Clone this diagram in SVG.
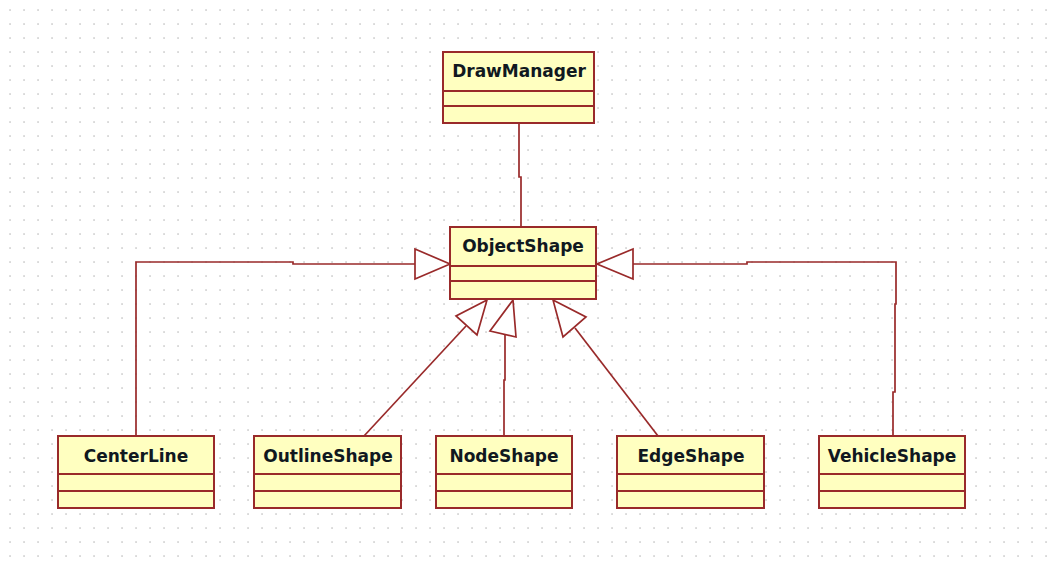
<svg xmlns="http://www.w3.org/2000/svg" width="1050" height="569" viewBox="0 0 1050 569">
  <defs>
    <pattern id="grid" patternUnits="userSpaceOnUse" x="0" y="0" width="14" height="14">
      <rect x="9.3" y="9.3" width="1.5" height="1.5" fill="#c4c4c4"/>
    </pattern>
    <style>
      .cls rect { fill: #ffffc0; stroke: #992a2a; stroke-width: 2; }
      .cls line { stroke: #992a2a; stroke-width: 2; }
      .cls text { font-family: "DejaVu Sans", Verdana, sans-serif; font-weight: bold; font-size: 17px; fill: #101820; text-anchor: middle; }
      .conn polyline, .conn line { fill: none; stroke: #992a2a; stroke-width: 1.7; }
      .conn polygon { fill: #ffffff; stroke: #992a2a; stroke-width: 1.7; stroke-linejoin: miter; }
    </style>
  </defs>

  <rect width="1050" height="569" fill="#ffffff"/>
  <rect width="1050" height="569" fill="url(#grid)"/>

  <!-- connectors -->
  <g id="connectors" class="conn">
    <!-- DrawManager association -->
    <polyline points="519,123 519,177 521,177 521,227"/>
    <!-- CenterLine generalization -->
    <polyline points="136,436 136,262 293,262 293,264 415,264"/>
    <polygon points="415,249 450,264 415,279"/>
    <!-- VehicleShape generalization -->
    <polyline points="893,436 893,392 895,392 895,304 896,304 896,262 747,262 747,264 633,264"/>
    <polygon points="633,249 597,264 633,279"/>
    <!-- OutlineShape generalization -->
    <line x1="364" y1="436" x2="466" y2="326"/>
    <polygon points="487,300 456,316 477,335"/>
    <!-- NodeShape generalization -->
    <polyline points="504,436 504,380 505,380 505,334"/>
    <polygon points="513,300 490,331 516,337"/>
    <!-- EdgeShape generalization -->
    <line x1="658" y1="436" x2="575" y2="328"/>
    <polygon points="553,300 586,317 563,337"/>
  </g>

  <g id="DrawManager" class="cls">
    <rect x="443" y="52" width="151" height="71"/>
    <line x1="443" y1="91" x2="594" y2="91"/>
    <line x1="443" y1="106" x2="594" y2="106"/>
    <text x="519" y="77">DrawManager</text>
  </g>

  <g id="ObjectShape" class="cls">
    <rect x="450" y="227" width="146" height="72"/>
    <line x1="450" y1="266" x2="596" y2="266"/>
    <line x1="450" y1="281" x2="596" y2="281"/>
    <text x="523" y="252">ObjectShape</text>
  </g>

  <g id="CenterLine" class="cls">
    <rect x="58" y="436" width="156" height="72"/>
    <line x1="58" y1="474" x2="214" y2="474"/>
    <line x1="58" y1="491" x2="214" y2="491"/>
    <text x="136" y="462">CenterLine</text>
  </g>

  <g id="OutlineShape" class="cls">
    <rect x="254" y="436" width="147" height="72"/>
    <line x1="254" y1="474" x2="401" y2="474"/>
    <line x1="254" y1="491" x2="401" y2="491"/>
    <text x="328" y="462">OutlineShape</text>
  </g>

  <g id="NodeShape" class="cls">
    <rect x="436" y="436" width="136" height="72"/>
    <line x1="436" y1="474" x2="572" y2="474"/>
    <line x1="436" y1="491" x2="572" y2="491"/>
    <text x="504" y="462">NodeShape</text>
  </g>

  <g id="EdgeShape" class="cls">
    <rect x="617" y="436" width="147" height="72"/>
    <line x1="617" y1="474" x2="764" y2="474"/>
    <line x1="617" y1="491" x2="764" y2="491"/>
    <text x="691" y="462">EdgeShape</text>
  </g>

  <g id="VehicleShape" class="cls">
    <rect x="819" y="436" width="146" height="72"/>
    <line x1="819" y1="474" x2="965" y2="474"/>
    <line x1="819" y1="491" x2="965" y2="491"/>
    <text x="892" y="462">VehicleShape</text>
  </g>
</svg>
